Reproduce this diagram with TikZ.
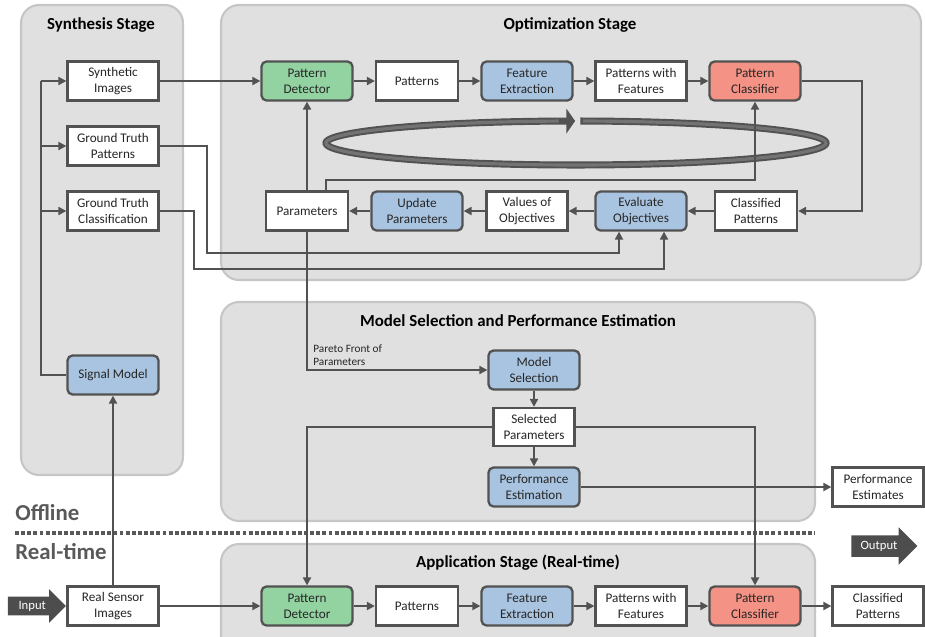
\documentclass[tikz,border=0pt]{standalone}
\usepackage{fontspec}
\setmainfont{Carlito}
\usetikzlibrary{arrows.meta,shapes.arrows}

\definecolor{panelfill}{HTML}{E0E0E0}
\definecolor{paneldraw}{HTML}{C6C6C6}
\definecolor{linecol}{HTML}{525252}
\definecolor{detgreen}{HTML}{92D3A1}
\definecolor{procblue}{HTML}{A9C4E0}
\definecolor{clsred}{HTML}{F49285}
\definecolor{textcol}{HTML}{262626}
\definecolor{labelgray}{HTML}{595959}
\definecolor{ringlight}{HTML}{737373}
\definecolor{bigarrowcol}{HTML}{4D4D4D}

\tikzset{
  panel/.style={draw=paneldraw, fill=panelfill, line width=1.2pt, rounded corners=0.36cm},
  stage/.style={font=\fontsize{9.6}{11}\selectfont\bfseries},
  data/.style={draw=linecol, fill=white, line width=1.3pt, minimum width=1.82cm, minimum height=0.78cm, align=center, text=textcol, font=\fontsize{7.5}{9}\selectfont, inner sep=1pt},
  proc/.style={data, rounded corners=0.1cm},
  flow/.style={draw=linecol, line width=1.1pt, -{Triangle[length=4.5pt,width=4.5pt]}},
  wire/.style={draw=linecol, line width=1.1pt},
  bigarrow/.style={single arrow, fill=bigarrowcol, text=white, font=\fontsize{7.2}{8}\selectfont, inner xsep=2pt, inner ysep=2.2pt, single arrow head extend=0.15cm},
  sidelabel/.style={font=\fontsize{13}{15}\selectfont\bfseries, text=labelgray, anchor=west, inner sep=0pt},
}

\begin{document}
\begin{tikzpicture}[x=0.02cm, y=-0.02cm]
\useasboundingbox (0,0) rectangle (925,636);
\clip (0,0) rectangle (925,636);

\draw[panel] (21,5) rectangle (183,475);
\draw[panel] (221,5) rectangle (921,280);
\draw[panel] (221,302) rectangle (815,521);
\draw[panel] (221,544) rectangle (815,660);

\node[stage] (synthT) at (101,25) {Synthesis Stage};
\node[stage] (optT) at (570,25) {Optimization Stage};
\node[stage] (selT) at (518,321) {Model Selection and Performance Estimation};
\node[stage] (appT) at (518,563) {Application Stage (Real-time)};

\draw[linecol, line width=4pt, -{Triangle[length=5pt,width=14pt]}] plot[domain=271:629.8, samples=150] ({576+250*cos(\x)},{143+22*sin(\x)});
\draw[ringlight, line width=1.8pt] plot[domain=271.6:626, samples=150] ({576+250*cos(\x)},{143+22*sin(\x)});

\node[data] (synimg) at (113,81) {Synthetic\\Images};
\node[data] (gtpat) at (113,146) {Ground Truth\\Patterns};
\node[data] (gtcls) at (113,211) {Ground Truth\\Classification};
\node[proc, fill=procblue] (sigmod) at (113,375) {Signal Model};
\node[data] (sensor) at (113,606) {Real Sensor\\Images};

\node[proc, fill=detgreen] (detect) at (307,81) {Pattern\\Detector};
\node[data, minimum width=1.64cm] (pats) at (417,81) {Patterns};
\node[proc, fill=procblue] (featx) at (527,81) {Feature\\Extraction};
\node[data] (patfeat) at (641,81) {Patterns with\\Features};
\node[proc, fill=clsred] (classif) at (755,81) {Pattern\\Classifier};
\node[data, minimum width=1.64cm] (clspat) at (756,211) {Classified\\Patterns};
\node[proc, fill=procblue] (evalobj) at (641,211) {Evaluate\\Objectives};
\node[data, minimum width=1.62cm] (objval) at (527,211) {Values of\\Objectives};
\node[proc, fill=procblue] (updpar) at (417,211) {Update\\Parameters};
\node[data, minimum width=1.64cm] (params) at (307,211) {Parameters};

\node[proc, fill=procblue] (modsel) at (534,370) {Model\\Selection};
\node[data, minimum width=1.62cm, minimum height=0.76cm] (selpar) at (534,427) {Selected\\Parameters};
\node[proc, fill=procblue] (perfest) at (534,487) {Performance\\Estimation};
\node[data] (perfout) at (878,487) {Performance\\Estimates};
\node[font=\fontsize{6.4}{7.6}\selectfont, align=left, anchor=south west, text=textcol, inner sep=0pt] (pareto) at (313,366) {Pareto Front of\\Parameters};

\node[proc, fill=detgreen] (adetect) at (307,606) {Pattern\\Detector};
\node[data, minimum width=1.64cm] (apats) at (417,606) {Patterns};
\node[proc, fill=procblue] (afeatx) at (527,606) {Feature\\Extraction};
\node[data] (apatfeat) at (641,606) {Patterns with\\Features};
\node[proc, fill=clsred] (aclassif) at (755,606) {Pattern\\Classifier};
\node[data] (aclspat) at (878,606) {Classified\\Patterns};

\node[sidelabel] (offline) at (15,513) {Offline};
\node[sidelabel] (realtime) at (15,552) {Real-time};
\draw[labelgray, line width=2.3pt, dash pattern=on 2.2pt off 1.3pt] (15,533) -- (815,533);
\node[bigarrow, minimum height=1.16cm, anchor=tip] (input) at (sensor.west) {Input};
\node[bigarrow, minimum height=1.32cm, inner ysep=3pt, single arrow head extend=0.16cm] (output) at (879,546) {Output};

\coordinate (bus) at (41,81);
\draw[wire] (sigmod.west) -| (bus);
\draw[flow] (bus) -- (synimg.west);
\draw[flow] (gtpat.west -| bus) -- (gtpat.west);
\draw[flow] (gtcls.west -| bus) -- (gtcls.west);
\draw[flow] (sensor) -- (sigmod);
\draw[flow] (gtpat.east) -| (207,253) -| ([xshift=-0.44cm]evalobj.south);
\draw[flow] (gtcls.east) -| (194,269) -| ([xshift=0.46cm]evalobj.south);

\draw[flow] (synimg) -- (detect);
\draw[flow] (detect) -- (pats);
\draw[flow] (pats) -- (featx);
\draw[flow] (featx) -- (patfeat);
\draw[flow] (patfeat) -- (classif);
\draw[flow] (classif.east) -- ++(60,0) |- (clspat.east);
\draw[flow] (clspat) -- (evalobj);
\draw[flow] (evalobj) -- (objval);
\draw[flow] (objval) -- (updpar);
\draw[flow] (updpar) -- (params);
\draw[flow] (params) -- (detect);
\draw[flow] ([xshift=0.38cm]params.north) -- ++(0,-10) -| (classif.south);

\draw[flow] (params.south) |- (modsel.west);
\draw[flow] (modsel) -- (selpar);
\draw[flow] (selpar) -- (perfest);
\draw[flow] (perfest) -- (perfout);
\draw[flow] (selpar.west) -| (adetect.north);
\draw[flow] (selpar.east) -| (aclassif.north);

\draw[flow] (sensor) -- (adetect);
\draw[flow] (adetect) -- (apats);
\draw[flow] (apats) -- (afeatx);
\draw[flow] (afeatx) -- (apatfeat);
\draw[flow] (apatfeat) -- (aclassif);
\draw[flow] (aclassif) -- (aclspat);
\end{tikzpicture}
\end{document}
